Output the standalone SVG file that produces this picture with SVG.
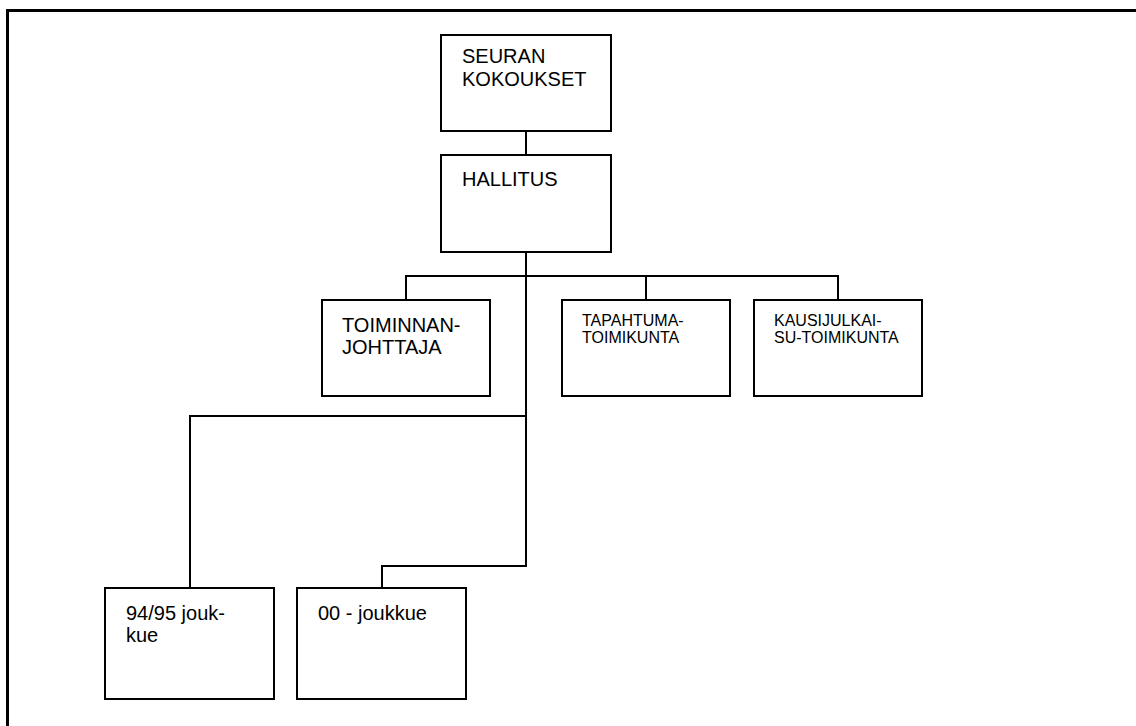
<svg xmlns="http://www.w3.org/2000/svg" width="1136" height="726" viewBox="0 0 1136 726">
<style>
.box{fill:#fff;stroke:#000;stroke-width:2}
.ln{fill:none;stroke:#000;stroke-width:2}
.t{font-family:"Liberation Sans",Arial,sans-serif;font-size:20px;fill:#000}
.s{font-family:"Liberation Sans",Arial,sans-serif;font-size:16px;fill:#000}
</style>
<rect x="0" y="0" width="1136" height="726" fill="#fff"/>
<rect id="frame" x="7.5" y="10.5" width="1140" height="730" fill="none" stroke="#000" stroke-width="3"/>
<g id="connectors">
<path class="ln" d="M526 131V155"/>
<path class="ln" d="M526 252V566H382V588"/>
<path class="ln" d="M406 300V276H838V300"/>
<path class="ln" d="M646 276V300"/>
<path class="ln" d="M526 416H190V588"/>
</g>
<g id="n-seuran"><rect class="box" x="441" y="35" width="170" height="96"/><text class="t" x="462" y="63">SEURAN</text><text class="t" x="462" y="86">KOKOUKSET</text></g>
<g id="n-hallitus"><rect class="box" x="441" y="155" width="170" height="97"/><text class="t" x="462" y="186">HALLITUS</text></g>
<g id="n-toiminnanjohtaja"><rect class="box" x="322" y="300" width="168" height="96"/><text class="t" x="342" y="332">TOIMINNAN-</text><text class="t" x="342" y="354">JOHTTAJA</text></g>
<g id="n-tapahtuma"><rect class="box" x="562" y="300" width="168" height="96"/><text class="s" x="582" y="326">TAPAHTUMA-</text><text class="s" x="582" y="343">TOIMIKUNTA</text></g>
<g id="n-kausijulkaisu"><rect class="box" x="754" y="300" width="168" height="96"/><text class="s" x="774" y="326">KAUSIJULKAI-</text><text class="s" x="774" y="343">SU-TOIMIKUNTA</text></g>
<g id="n-9495"><rect class="box" x="105" y="588" width="169" height="111"/><text class="t" x="126" y="620">94/95 jouk-</text><text class="t" x="126" y="642">kue</text></g>
<g id="n-00"><rect class="box" x="297" y="588" width="169" height="111"/><text class="t" x="318" y="620">00 - joukkue</text></g>
</svg>
